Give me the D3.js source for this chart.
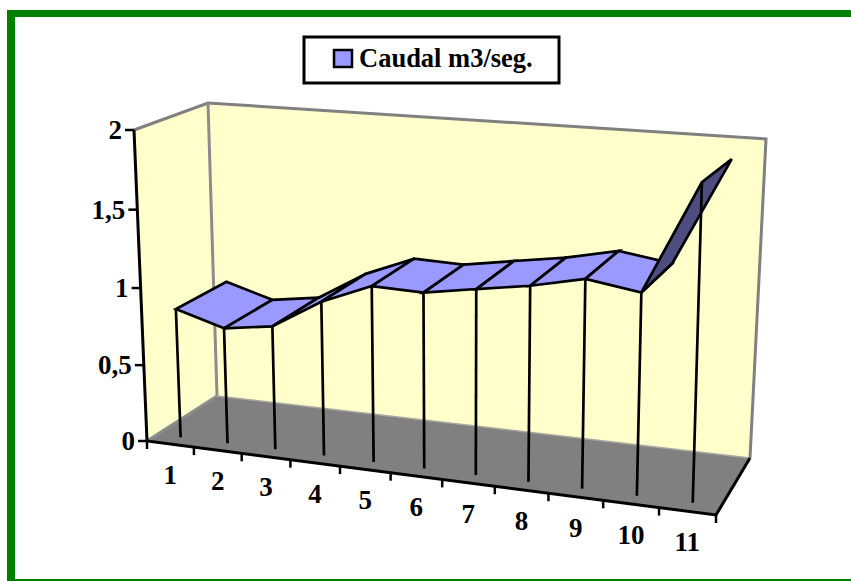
<!DOCTYPE html>
<html>
<head>
<meta charset="utf-8">
<script src="https://d3js.org/d3.v7.min.js"></script>
<style>
  html, body { margin: 0; padding: 0; background: #fff; overflow: hidden; }
  text { font-family: "Liberation Serif", serif; font-weight: bold; fill: #000; }
</style>
</head>
<body>
<svg id="chart" width="851" height="581"></svg>
<script>
var categories = ["1", "2", "3", "4", "5", "6", "7", "8", "9", "10", "11"];
var caudal = [0.844, 0.751, 0.796, 0.984, 1.112, 1.102, 1.154, 1.204, 1.275, 1.224, 1.892];
var valueTicks = [0, 0.5, 1, 1.5, 2];
var valueLabels = ["0", "0,5", "1", "1,5", "2"];
var seriesName = "Caudal m3/seg.";

const svg = d3.select("#chart");

// corners of the 3d box on screen: c[right][top][back]
const corners = {
  "000": [147, 441], "100": [716, 515],
  "001": [217, 396], "101": [750, 458],
  "010": [134, 130], "110": [726, 170],
  "011": [208, 103], "111": [766, 139]
};
const ribbonFront = 0.15, ribbonBack = 0.87;

const catScale = d3.scaleLinear().domain([0, categories.length]).range([0, 1]);
const valScale = d3.scaleLinear().domain([0, 2]).range([0, 1]);

// foreshortening along an axis
function warp(t, k) {
  return t / (t + k * (1 - t));
}
const lerp = (a, b, t) => a + (b - a) * t;

function project(cat, val, depth) {
  const u = warp(catScale(cat), 1.113);
  const v = warp(valScale(val), 1.033);
  const out = [0, 1].map(n => {
    const at = (r, t, b) => corners["" + r + t + b][n];
    const front = lerp(lerp(at(0, 0, 0), at(1, 0, 0), u), lerp(at(0, 1, 0), at(1, 1, 0), u), v);
    const back = lerp(lerp(at(0, 0, 1), at(1, 0, 1), u), lerp(at(0, 1, 1), at(1, 1, 1), u), v);
    return lerp(front, back, depth);
  });
  return out;
}

const line = d3.line();
const nCat = categories.length;
const maxVal = valScale.domain()[1];

// page frame
svg.append("rect").attr("x", 7).attr("y", 10).attr("width", 844).attr("height", 7).attr("fill", "#008000");
svg.append("rect").attr("x", 7).attr("y", 10).attr("width", 8).attr("height", 571).attr("fill", "#008000");
svg.append("rect").attr("x", 7).attr("y", 579).attr("width", 844).attr("height", 2).attr("fill", "#008000");

// walls and floor
svg.append("path")
  .attr("d", line([project(0, 0, 0), project(0, maxVal, 0), project(0, maxVal, 1), project(0, 0, 1)]) + "Z")
  .attr("fill", "#ffffcc");
svg.append("path")
  .attr("d", line([project(0, 0, 1), project(0, maxVal, 1), project(nCat, maxVal, 1), project(nCat, 0, 1)]) + "Z")
  .attr("fill", "#ffffcc");
svg.append("path")
  .attr("d", line([project(0, 0, 0), project(0, 0, 1), project(nCat, 0, 1), project(nCat, 0, 0)]) + "Z")
  .attr("fill", "#808080");

// grey wall edges
svg.append("path")
  .attr("d", line([project(0, maxVal, 0), project(0, maxVal, 1), project(nCat, maxVal, 1), project(nCat, 0, 1)]))
  .attr("fill", "none").attr("stroke", "#808080").attr("stroke-width", 3);
svg.append("path")
  .attr("d", line([project(0, maxVal, 1), project(0, 0, 1), project(0, 0, 0)]))
  .attr("fill", "none").attr("stroke", "#8c8c8c").attr("stroke-width", 3);
svg.append("path")
  .attr("d", line([project(0, 0, 1), project(nCat, 0, 1)]))
  .attr("fill", "none").attr("stroke", "#a8a8a0").attr("stroke-width", 1.5);

// axes
svg.append("path")
  .attr("d", line([project(0, maxVal, 0), project(0, 0, 0), project(nCat, 0, 0), project(nCat, 0, 1)]))
  .attr("fill", "none").attr("stroke", "#000").attr("stroke-width", 3);

svg.selectAll(".valueTick")
  .data(valueTicks)
  .enter()
  .append("line")
  .attr("class", "valueTick")
  .attr("x1", d => project(0, d, 0)[0])
  .attr("y1", d => project(0, d, 0)[1])
  .attr("x2", d => project(0, d, 0)[0] - 9)
  .attr("y2", d => project(0, d, 0)[1])
  .attr("stroke", "#000").attr("stroke-width", 2.5);

svg.selectAll(".valueLabel")
  .data(valueTicks)
  .enter()
  .append("text")
  .attr("class", "valueLabel")
  .text((d, i) => valueLabels[i])
  .attr("x", d => project(0, d, 0)[0] - 12)
  .attr("y", d => project(0, d, 0)[1] + 9)
  .attr("text-anchor", "end")
  .style("font-size", "27px");

svg.selectAll(".catTick")
  .data(d3.range(nCat + 1))
  .enter()
  .append("line")
  .attr("class", "catTick")
  .attr("x1", d => project(d, 0, 0)[0])
  .attr("y1", d => project(d, 0, 0)[1])
  .attr("x2", d => project(d, 0, 0)[0])
  .attr("y2", d => project(d, 0, 0)[1] + 8)
  .attr("stroke", "#000").attr("stroke-width", 2.5);

svg.selectAll(".catLabel")
  .data(categories)
  .enter()
  .append("text")
  .attr("class", "catLabel")
  .text(d => d)
  .attr("x", (d, i) => project(i + 0.5, 0, 0)[0])
  .attr("y", (d, i) => project(i + 0.5, 0, 0)[1] + 40)
  .attr("text-anchor", "middle")
  .style("font-size", "27px");

// ribbon, one panel per segment; panels seen from below are darker
function panelPoints(i) {
  return [
    project(i + 0.5, caudal[i], ribbonFront),
    project(i + 1.5, caudal[i + 1], ribbonFront),
    project(i + 1.5, caudal[i + 1], ribbonBack),
    project(i + 0.5, caudal[i], ribbonBack)
  ];
}

svg.selectAll(".panel")
  .data(d3.range(nCat - 1))
  .enter()
  .append("path")
  .attr("class", "panel")
  .attr("d", d => line(panelPoints(d)) + "Z")
  .attr("fill", d => d3.polygonArea(panelPoints(d)) > 0 ? "#9999ff" : "#4d4d80")
  .attr("stroke", "#000")
  .attr("stroke-width", 2.7)
  .attr("stroke-linejoin", "miter");

// drop lines
svg.selectAll(".drop")
  .data(caudal)
  .enter()
  .append("line")
  .attr("class", "drop")
  .attr("x1", (d, i) => project(i + 0.5, d, ribbonFront)[0])
  .attr("y1", (d, i) => project(i + 0.5, d, ribbonFront)[1])
  .attr("x2", (d, i) => project(i + 0.5, 0, ribbonFront)[0])
  .attr("y2", (d, i) => project(i + 0.5, 0, ribbonFront)[1])
  .attr("stroke", "#000").attr("stroke-width", 2.7);

// legend
const legend = svg.append("g");
legend.append("rect")
  .attr("x", 304).attr("y", 37).attr("width", 255).attr("height", 46)
  .attr("fill", "#fff").attr("stroke", "#000").attr("stroke-width", 3);
legend.append("rect")
  .attr("x", 334).attr("y", 50).attr("width", 18).attr("height", 17)
  .attr("fill", "#9999ff").attr("stroke", "#000").attr("stroke-width", 2.5);
legend.append("text")
  .text(seriesName)
  .attr("x", 359).attr("y", 67)
  .style("font-size", "26.5px");
</script>
</body>
</html>
